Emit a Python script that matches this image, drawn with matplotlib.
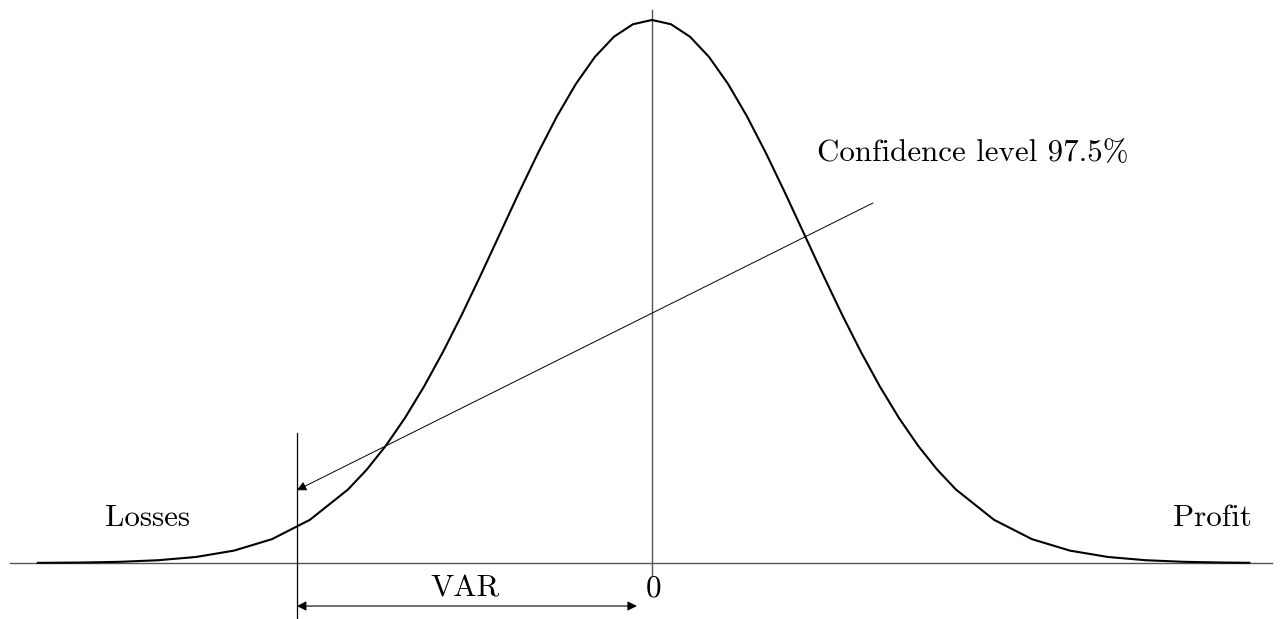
import matplotlib
matplotlib.use("Agg")
import matplotlib.pyplot as plt

# density curve (x in sigma units, y as share of peak height)
curve_x = [-4.04, -3.75, -3.5, -3.25, -3.0, -2.75, -2.5, -2.25,
           -2.0, -1.875, -1.75, -1.625, -1.5, -1.375, -1.25, -1.125,
           -1.0, -0.875, -0.75, -0.625, -0.5, -0.375, -0.25, -0.125,
           0.0, 0.125, 0.25, 0.375, 0.5, 0.625, 0.75, 0.875,
           1.0, 1.125, 1.25, 1.375, 1.5, 1.625, 1.75, 1.875,
           2.0, 2.25, 2.5, 2.75, 3.0, 3.25, 3.5, 3.75, 3.93]
curve_y = [0.0003, 0.0009, 0.0022, 0.0051, 0.0111, 0.0228, 0.0439, 0.0796,
           0.1353, 0.1724, 0.2163, 0.2671, 0.3247, 0.3886, 0.4578, 0.5311,
           0.6065, 0.6820, 0.7548, 0.8226, 0.8825, 0.9321, 0.9692, 0.9922,
           1.0, 0.9922, 0.9692, 0.9321, 0.8825, 0.8226, 0.7548, 0.6820,
           0.6065, 0.5311, 0.4578, 0.3886, 0.3247, 0.2671, 0.2163, 0.1724,
           0.1353, 0.0796, 0.0439, 0.0228, 0.0111, 0.0051, 0.0022, 0.0009, 0.0004]

var_x = -2.336          # VAR cut-off
conf_label = "Confidence level 97.5%"
conf_start = (1.454, 0.663)
conf_end = (var_x, 0.134)

font = dict(family="cmr10", size=22.3, color="black")

fig = plt.figure(figsize=(12.84, 6.19), dpi=100)
ax = fig.add_axes([0, 0, 1, 1])
ax.set_xlim(-4.289, 4.158)
ax.set_ylim(-0.1031, 1.0368)
ax.axis("off")

# axes lines
ax.plot([-4.224, 4.079], [0, 0], color="#555555", lw=1.0)
ax.plot([0, 0], [1.018, -0.024], color="#555555", lw=1.0)

# curve
ax.plot(curve_x, curve_y, color="black", lw=1.5)

# VAR marker line
ax.plot([var_x, var_x], [0.2394, -0.1031], color="black", lw=0.9)

# confidence level arrow
ax.annotate("", xy=conf_end, xytext=conf_start,
            arrowprops=dict(arrowstyle="-|>", color="black", lw=0.7,
                            mutation_scale=14, shrinkA=0, shrinkB=0))

# VAR double arrow
ax.annotate("", xy=(-0.0987, -0.0792), xytext=(var_x, -0.0792),
            arrowprops=dict(arrowstyle="<|-|>", color="black", lw=0.8,
                            mutation_scale=14, shrinkA=0, shrinkB=0))

ax.text(-3.32, 0.082, "Losses", ha="center", va="center", **font)
ax.text(3.687, 0.082, "Profit", ha="center", va="center", **font)
ax.text(-1.230, -0.047, "VAR", ha="center", va="center", **font)
ax.text(0.01, -0.047, "0", ha="center", va="center", **font)
ax.text(1.086, 0.755, conf_label, ha="left", va="center", **font)

fig.savefig("out.png", dpi=100, facecolor="white")
